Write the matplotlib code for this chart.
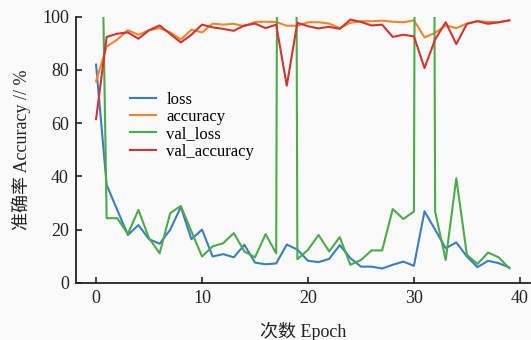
import numpy as np
import matplotlib
matplotlib.use('Agg')
from matplotlib import pyplot as plt

plt.rcParams['font.family'] = ['Liberation Serif', 'Noto Sans CJK SC']

epochs = np.arange(40)

loss = [82, 36.8, 27.4, 18, 21.7, 16.4, 14.7, 20, 28.5, 16.4,
        20, 9.9, 10.8, 9.6, 14.3, 7.6, 7, 7.3, 14.4, 12.5,
        8.3, 7.8, 9, 14.2, 9.3, 6.1, 6.1, 5.4, 6.8, 8,
        6.4, 26.9, 20, 13, 15.2, 9.9, 5.9, 8.3, 7.4, 5.8]
accuracy = [75.7, 88.8, 91.4, 94.9, 93.2, 94.9, 95.7, 94.1, 91.4, 95.1,
            94.1, 97.4, 97, 97.3, 96.4, 98, 98.1, 98, 96.6, 96.6,
            97.9, 97.9, 97.4, 95.7, 97.7, 98.3, 98.3, 98.5, 98.1, 97.9,
            98.6, 92.2, 93.9, 96.7, 95.7, 97.4, 98.3, 98, 97.9, 98.6]
val_loss = [270, 24.3, 24.3, 18.4, 27.4, 16.8, 11.1, 26.2, 28.9, 19.3,
            9.9, 13.7, 14.9, 18.7, 11.8, 9.6, 18.3, 11.1, 1300, 8.9,
            12.4, 18, 11.8, 17.2, 6.8, 8.6, 12.2, 12.2, 27.7, 24,
            26.8, 1300, 26.8, 8.6, 39.3, 10.5, 7.1, 11.4, 9.6, 5.5]
val_accuracy = [61.5, 92.4, 93.6, 94.1, 91.7, 94.9, 96.7, 93.5, 90.3, 93.2,
                97, 96, 95.4, 94.7, 96.7, 97.4, 95.7, 97, 74.1, 97.7,
                96.4, 95.6, 96.2, 95.4, 98.9, 98, 96.7, 97, 92.4, 93.2,
                92.6, 80.7, 91.4, 97.9, 89.7, 97.3, 98.3, 97.3, 97.9, 98.6]

bg = '#fafafa'
fig = plt.figure(figsize=(5.31, 3.4), dpi=100, facecolor=bg)
ax = fig.add_axes([0.143, 0.168, 0.855, 0.783], facecolor=bg)

ax.plot(epochs, loss, color='#3a7dc0', lw=1.5, label='loss')
ax.plot(epochs, accuracy, color='#f5832a', lw=1.5, label='accuracy')
ax.plot(epochs, val_loss, color='#4caa48', lw=1.5, label='val_loss')
ax.plot(epochs, val_accuracy, color='#d4332f', lw=1.5, label='val_accuracy')

ax.set_xlim(-1.9, 40.95)
ax.set_ylim(0, 100)
ax.set_xticks([0, 10, 20, 30, 40])
ax.set_yticks([0, 20, 40, 60, 80, 100])

for s in ['top', 'right']:
    ax.spines[s].set_visible(False)
for s in ['left', 'bottom']:
    ax.spines[s].set_linewidth(1.3)
    ax.spines[s].set_color('#222222')
ax.tick_params(direction='in', length=4, width=1.2, labelsize=13, colors='#222222', pad=5)

ax.set_xlabel('次数 Epoch', fontsize=13, labelpad=11, color='#222222')
ax.set_ylabel('准确率 Accuracy // %', fontsize=13, labelpad=8, color='#222222')

ax.legend(loc='upper left', bbox_to_anchor=(0.085, 0.775), frameon=False, fontsize=12,
          handlelength=1.6, handletextpad=0.6, labelspacing=0.08)

fig.savefig('out.png', dpi=100, facecolor=bg)
